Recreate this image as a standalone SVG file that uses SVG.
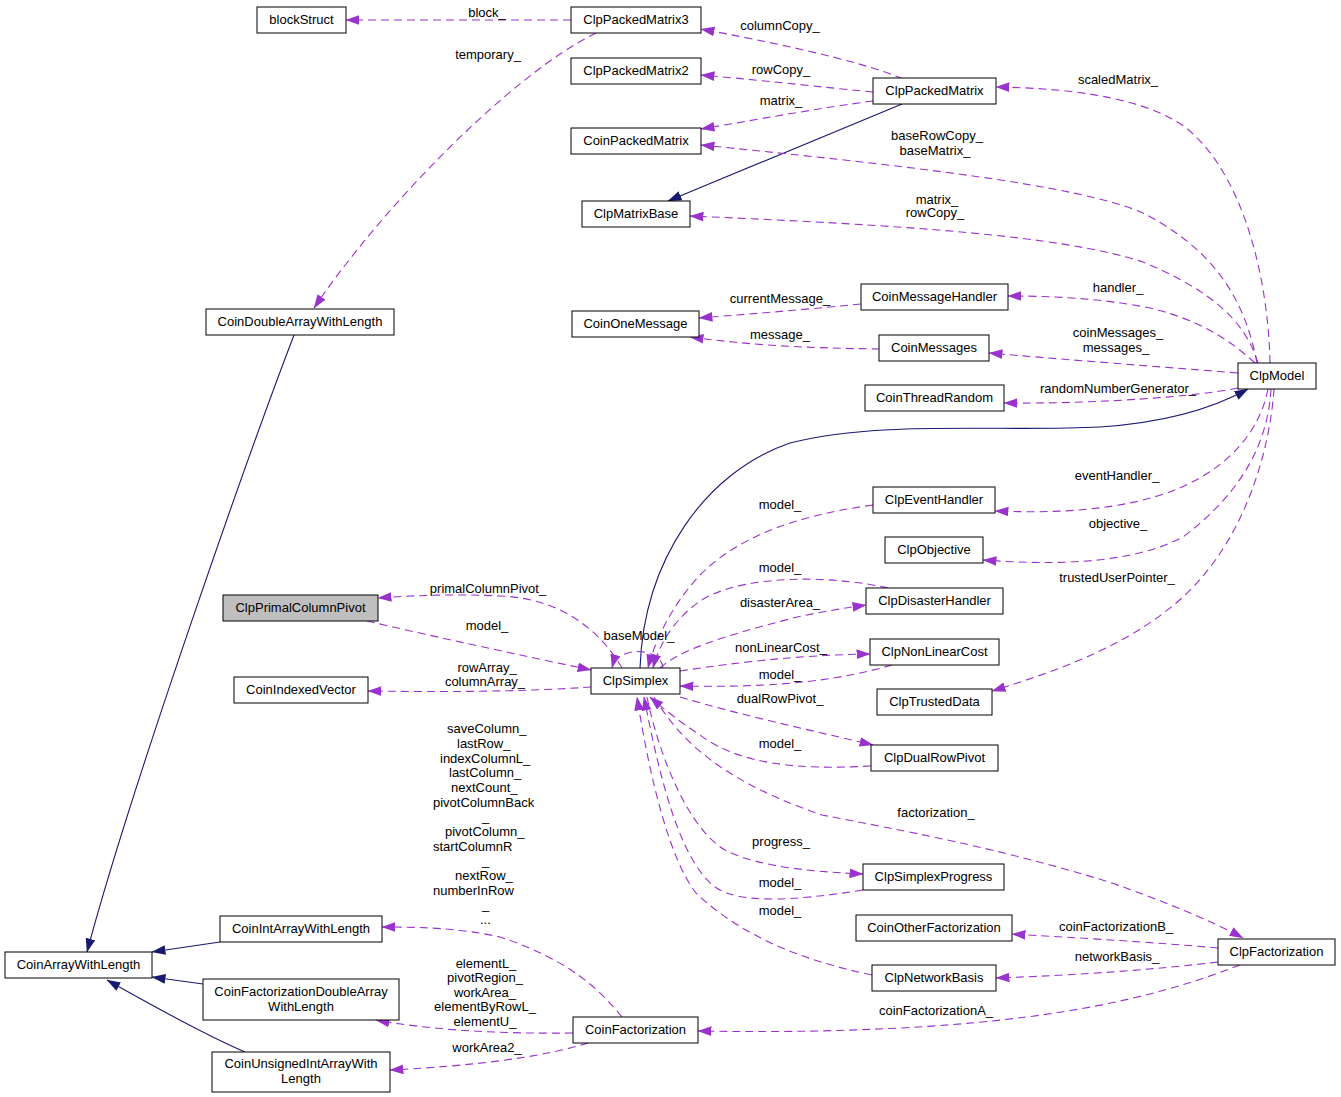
<svg xmlns="http://www.w3.org/2000/svg" width="1341" height="1097" viewBox="0 0 1341 1097">
<style>
text{font-family:"Liberation Sans",Arial,Helvetica,sans-serif;font-size:13px;fill:#000}
.n rect{fill:#fff;stroke:#000;stroke-width:1}
.n text{text-anchor:middle}
.l{text-anchor:middle}
.d{fill:none;stroke:#9a32cd;stroke-width:1.1;stroke-dasharray:8,5;marker-end:url(#ap)}
.s{fill:none;stroke:#191970;stroke-width:1.1;marker-end:url(#an)}
</style>
<defs>
<marker id="ap" markerUnits="userSpaceOnUse" markerWidth="14" markerHeight="10" viewBox="0 0 13 9" refX="12.5" refY="4.5" orient="auto"><path d="M0,0 L13,4.5 L0,9 z" fill="#9a32cd"/></marker>
<marker id="an" markerUnits="userSpaceOnUse" markerWidth="14" markerHeight="10" viewBox="0 0 13 9" refX="12.5" refY="4.5" orient="auto"><path d="M0,0 L13,4.5 L0,9 z" fill="#191970"/></marker>
</defs>
<rect width="1341" height="1097" fill="#fff"/>
<g id="edges">
<path class="d" d="M571,20 L346,20"/>
<path class="d" d="M596,33 C510,75 380,210 314,308"/>
<path class="d" d="M903,79 C860,60 760,40 701,29"/>
<path class="d" d="M873,92 C820,87 760,80 701,75"/>
<path class="d" d="M873,101 C820,108 760,119 701,129"/>
<path class="s" d="M902,104 L668,201"/>
<path class="d" d="M1257,363 C1245,300 1215,250 1143,213 C1080,185 900,165 701,145"/>
<path class="d" d="M1258,363 C1245,320 1210,290 1143,262 C1060,235 900,225 690,216"/>
<path class="d" d="M1270,363 C1268,270 1240,170 1185,127 C1140,95 1060,88 996,87"/>
<path class="d" d="M1255,363 C1230,340 1200,320 1150,308 C1100,298 1050,296 1008,296"/>
<path class="d" d="M861,304 C800,310 750,314 699,318"/>
<path class="d" d="M880,349 C800,348 750,345 690,337"/>
<path class="d" d="M1238,373 C1150,366 1070,360 989,353"/>
<path class="d" d="M1238,388 C1200,396 1100,404 1004,403"/>
<path class="s" d="M640,668 C644,560 705,472 790,443 C880,420 1000,432 1100,427 C1160,423 1210,410 1248,389"/>
<path class="d" d="M1268,389 C1260,430 1230,470 1167,493 C1110,512 1050,513 995,511"/>
<path class="d" d="M1271,389 C1268,440 1245,490 1183,537 C1130,565 1050,565 983,560"/>
<path class="d" d="M1274,389 C1270,450 1245,540 1183,597 C1130,645 1060,670 992,691"/>
<path class="d" d="M622,668 C600,630 560,598 500,596 C460,594 420,595 378,598"/>
<path class="d" d="M367,621 C440,638 520,655 591,670"/>
<path class="d" d="M591,687 C520,692 440,692 368,691"/>
<path class="d" d="M663,668 C662,648 618,644 612,668"/>
<path class="d" d="M873,505 C800,515 740,535 700,575 C672,605 655,640 648,668"/>
<path class="d" d="M888,588 C830,575 750,575 707,597 C680,612 660,640 653,668"/>
<path class="d" d="M660,668 C680,650 720,637 797,617 C820,612 845,608 866,605"/>
<path class="d" d="M680,671 C740,662 800,655 870,654"/>
<path class="d" d="M892,665 C840,680 780,688 680,686"/>
<path class="d" d="M680,697 C740,715 810,730 873,745"/>
<path class="d" d="M871,766 C800,770 740,765 700,735 C680,722 665,710 650,697"/>
<path class="d" d="M654,697 C680,740 720,780 822,815 C900,830 1000,848 1112,883 C1160,900 1210,920 1243,938"/>
<path class="d" d="M647,697 C660,760 690,830 725,850 C760,868 820,872 863,874"/>
<path class="d" d="M863,890 C800,900 740,905 715,887 C680,860 660,780 644,697"/>
<path class="d" d="M872,975 C800,960 740,935 696,893 C670,860 650,780 637,697"/>
<path class="d" d="M1218,948 C1150,942 1080,938 1012,934"/>
<path class="d" d="M1218,962 C1150,970 1080,975 996,978"/>
<path class="d" d="M1240,965 C1150,1000 1050,1020 900,1028 C820,1032 760,1032 698,1031"/>
<path class="d" d="M622,1017 C600,990 570,960 500,937 C460,928 420,927 382,927"/>
<path class="d" d="M573,1033 C500,1034 430,1030 376,1020"/>
<path class="d" d="M588,1043 C540,1058 470,1066 390,1070"/>
<path class="s" d="M294,335 C250,450 130,790 87,952"/>
<path class="s" d="M220,942 L152,952"/>
<path class="s" d="M203,984 L152,977"/>
<path class="s" d="M245,1052 C210,1037 160,1010 107,980"/>
</g>
<g id="edge-labels">
<text class="l" x="487" y="17">block_</text>
<text class="l" x="488" y="59">temporary_</text>
<text class="l" x="780" y="30">columnCopy_</text>
<text class="l" x="781" y="74">rowCopy_</text>
<text class="l" x="781" y="105">matrix_</text>
<text class="l" x="937" y="140">baseRowCopy_</text>
<text class="l" x="935" y="155">baseMatrix_</text>
<text class="l" x="937" y="204">matrix_</text>
<text class="l" x="935" y="217">rowCopy_</text>
<text class="l" x="1118" y="84">scaledMatrix_</text>
<text class="l" x="1118" y="292">handler_</text>
<text class="l" x="780" y="303">currentMessage_</text>
<text class="l" x="780" y="339">message_</text>
<text class="l" x="1118" y="337">coinMessages_</text>
<text class="l" x="1116" y="352">messages_</text>
<text class="l" x="1118" y="393">randomNumberGenerator_</text>
<text class="l" x="1117" y="480">eventHandler_</text>
<text class="l" x="1118" y="528">objective_</text>
<text class="l" x="1117" y="582">trustedUserPointer_</text>
<text class="l" x="488" y="593">primalColumnPivot_</text>
<text class="l" x="487" y="630">model_</text>
<text class="l" x="487" y="672">rowArray_</text>
<text class="l" x="485" y="686">columnArray_</text>
<text class="l" x="639" y="640">baseModel_</text>
<text class="l" x="780" y="509">model_</text>
<text class="l" x="780" y="572">model_</text>
<text class="l" x="780" y="607">disasterArea_</text>
<text class="l" x="781" y="652">nonLinearCost_</text>
<text class="l" x="780" y="679">model_</text>
<text class="l" x="780" y="703">dualRowPivot_</text>
<text class="l" x="780" y="748">model_</text>
<text class="l" x="936" y="817">factorization_</text>
<text class="l" x="781" y="846">progress_</text>
<text class="l" x="780" y="887">model_</text>
<text class="l" x="780" y="915">model_</text>
<text class="l" x="1116" y="931">coinFactorizationB_</text>
<text class="l" x="1117" y="961">networkBasis_</text>
<text class="l" x="936" y="1015">coinFactorizationA_</text>
<text x="447" y="733">saveColumn_</text>
<text x="457" y="748">lastRow_</text>
<text x="440" y="763">indexColumnL_</text>
<text x="449" y="777">lastColumn_</text>
<text x="451" y="792">nextCount_</text>
<text x="433" y="807">pivotColumnBack</text>
<text x="482" y="821">_</text>
<text x="445" y="836">pivotColumn_</text>
<text x="433" y="851">startColumnR</text>
<text x="482" y="865">_</text>
<text x="455" y="880">nextRow_</text>
<text x="433" y="895">numberInRow</text>
<text x="482" y="909">_</text>
<text x="480" y="924">...</text>
<text class="l" x="486" y="968">elementL_</text>
<text class="l" x="485" y="982">pivotRegion_</text>
<text class="l" x="485" y="997">workArea_</text>
<text class="l" x="485" y="1011">elementByRowL_</text>
<text class="l" x="485" y="1026">elementU_</text>
<text class="l" x="487" y="1052">workArea2_</text>
</g>
<g id="n_blockStruct" class="n"><rect x="257" y="7" width="89" height="26"/><text x="301.5" y="24">blockStruct</text></g>
<g id="n_ClpPackedMatrix3" class="n"><rect x="571" y="7" width="130" height="26"/><text x="636" y="24">ClpPackedMatrix3</text></g>
<g id="n_ClpPackedMatrix2" class="n"><rect x="571" y="58" width="130" height="26"/><text x="636" y="75">ClpPackedMatrix2</text></g>
<g id="n_CoinPackedMatrix" class="n"><rect x="571" y="128" width="130" height="26"/><text x="636" y="145">CoinPackedMatrix</text></g>
<g id="n_ClpMatrixBase" class="n"><rect x="582" y="201" width="108" height="26"/><text x="636" y="218">ClpMatrixBase</text></g>
<g id="n_ClpPackedMatrix" class="n"><rect x="873" y="78" width="123" height="26"/><text x="934.5" y="95">ClpPackedMatrix</text></g>
<g id="n_CoinDoubleArrayWithLength" class="n"><rect x="206" y="309" width="188" height="26"/><text x="300" y="326">CoinDoubleArrayWithLength</text></g>
<g id="n_CoinOneMessage" class="n"><rect x="572" y="311" width="127" height="26"/><text x="635.5" y="328">CoinOneMessage</text></g>
<g id="n_CoinMessageHandler" class="n"><rect x="861" y="284" width="147" height="26"/><text x="934.5" y="301">CoinMessageHandler</text></g>
<g id="n_CoinMessages" class="n"><rect x="879" y="335" width="110" height="26"/><text x="934" y="352">CoinMessages</text></g>
<g id="n_CoinThreadRandom" class="n"><rect x="865" y="385" width="139" height="26"/><text x="934.5" y="402">CoinThreadRandom</text></g>
<g id="n_ClpModel" class="n"><rect x="1238" y="363" width="78" height="26"/><text x="1277" y="380">ClpModel</text></g>
<g id="n_ClpPrimalColumnPivot" class="n"><rect x="223" y="595" width="155" height="26" style="fill:#bfbfbf"/><text x="300.5" y="612">ClpPrimalColumnPivot</text></g>
<g id="n_CoinIndexedVector" class="n"><rect x="234" y="677" width="134" height="26"/><text x="301" y="694">CoinIndexedVector</text></g>
<g id="n_ClpSimplex" class="n"><rect x="591" y="668" width="89" height="26"/><text x="635.5" y="685">ClpSimplex</text></g>
<g id="n_ClpEventHandler" class="n"><rect x="873" y="487" width="122" height="26"/><text x="934" y="504">ClpEventHandler</text></g>
<g id="n_ClpObjective" class="n"><rect x="885" y="537" width="98" height="26"/><text x="934" y="554">ClpObjective</text></g>
<g id="n_ClpDisasterHandler" class="n"><rect x="866" y="588" width="137" height="26"/><text x="934.5" y="605">ClpDisasterHandler</text></g>
<g id="n_ClpNonLinearCost" class="n"><rect x="870" y="639" width="129" height="26"/><text x="934.5" y="656">ClpNonLinearCost</text></g>
<g id="n_ClpTrustedData" class="n"><rect x="877" y="689" width="115" height="26"/><text x="934.5" y="706">ClpTrustedData</text></g>
<g id="n_ClpDualRowPivot" class="n"><rect x="871" y="745" width="127" height="26"/><text x="934.5" y="762">ClpDualRowPivot</text></g>
<g id="n_ClpSimplexProgress" class="n"><rect x="863" y="864" width="141" height="26"/><text x="933.5" y="881">ClpSimplexProgress</text></g>
<g id="n_CoinOtherFactorization" class="n"><rect x="856" y="915" width="156" height="26"/><text x="934" y="932">CoinOtherFactorization</text></g>
<g id="n_ClpNetworkBasis" class="n"><rect x="872" y="965" width="124" height="26"/><text x="934" y="982">ClpNetworkBasis</text></g>
<g id="n_ClpFactorization" class="n"><rect x="1218" y="939" width="117" height="26"/><text x="1276.5" y="956">ClpFactorization</text></g>
<g id="n_CoinFactorization" class="n"><rect x="573" y="1017" width="125" height="26"/><text x="635.5" y="1034">CoinFactorization</text></g>
<g id="n_CoinArrayWithLength" class="n"><rect x="5" y="952" width="147" height="26"/><text x="78.5" y="969">CoinArrayWithLength</text></g>
<g id="n_CoinIntArrayWithLength" class="n"><rect x="220" y="916" width="162" height="26"/><text x="301" y="933">CoinIntArrayWithLength</text></g>
<g id="n_CoinFactorizationDoubleArrayWithLength" class="n"><rect x="203" y="979" width="196" height="41"/><text x="301" y="996">CoinFactorizationDoubleArray</text><text x="301" y="1011">WithLength</text></g>
<g id="n_CoinUnsignedIntArrayWithLength" class="n"><rect x="212" y="1052" width="178" height="40"/><text x="301" y="1068">CoinUnsignedIntArrayWith</text><text x="301" y="1083">Length</text></g>
</svg>
